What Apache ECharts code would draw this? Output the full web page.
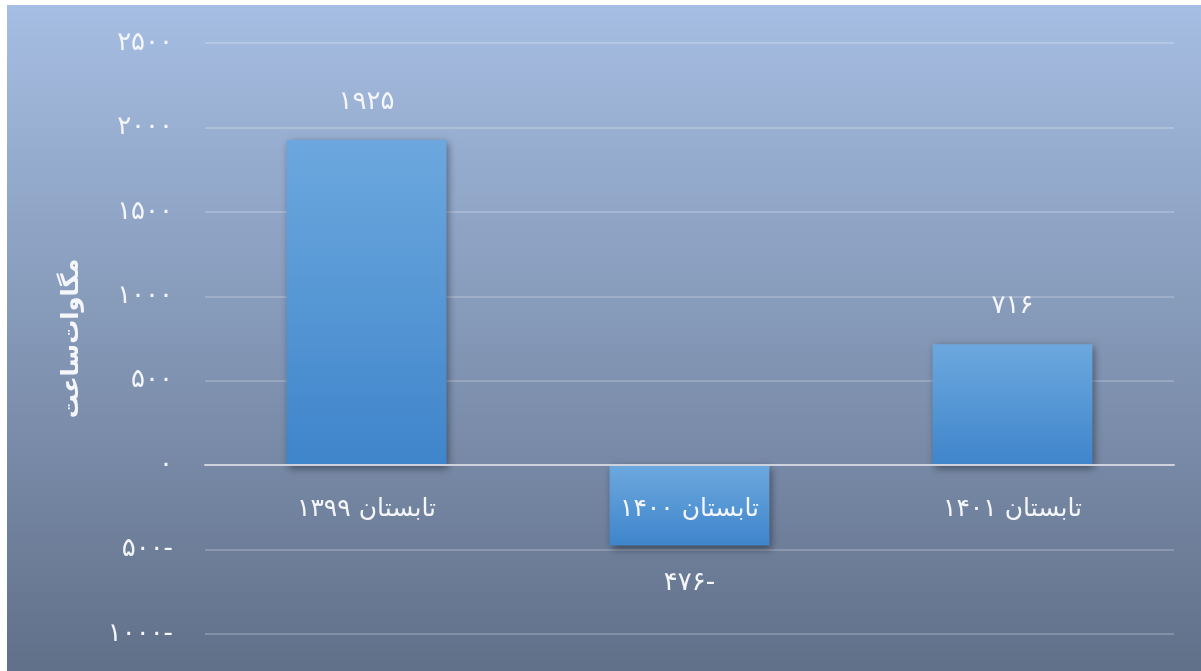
<!DOCTYPE html>
<html>
<head>
<meta charset="utf-8">
<script src="https://cdn.jsdelivr.net/npm/echarts@6/dist/echarts.min.js"></script>
<style>
  html, body { margin: 0; padding: 0; background: #fff; }
  #chart { position: absolute; left: 7px; top: 5px; width: 1194px; height: 666px; }
</style>
</head>
<body>
<div id="chart"></div>
<script>
// داده‌ها
var categories = ['تابستان ۱۳۹۹', 'تابستان ۱۴۰۰', 'تابستان ۱۴۰۱'];
var values = [1925, -476, 716];
var yTicks = [-1000, -500, 0, 500, 1000, 1500, 2000, 2500];
var axisTitle = 'مگاوات‌ساعت';

// اعداد فارسی، منفی با علامت در انتها
function toFa (n) {
  var s = String(Math.abs(n)).replace(/[0-9]/g, function (d) {
    return '۰۱۲۳۴۵۶۷۸۹'.charAt(+d);
  });
  return n < 0 ? s + '-' : s;
}

var font = 'DejaVu Sans';
var textColor = '#f4f6fa';
var gridTop = 38, gridBottom = 37, chartH = 666;
var yMin = yTicks[0], yMax = yTicks[yTicks.length - 1];
// فاصله‌ی خط صفر تا پایین ناحیه‌ی نمودار
var plotH = chartH - gridTop - gridBottom;
var zeroOffset = (0 - yMin) / (yMax - yMin) * plotH;

var chart = echarts.init(document.getElementById('chart'));
chart.setOption({
  backgroundColor: new echarts.graphic.LinearGradient(0, 0, 0, 1, [
    {offset: 0, color: '#a6bee3'},
    {offset: 1, color: '#617089'}
  ]),
  animation: false,
  grid: { left: 198, right: 27, top: gridTop, bottom: gridBottom, containLabel: false, outerBoundsMode: 'none' },
  xAxis: {
    type: 'category',
    data: categories,
    z: 10,
    offset: -zeroOffset,
    axisLine: { onZero: false, lineStyle: { color: '#cdd2dc', width: 2 } },
    axisTick: { show: false },
    axisLabel: {
      color: textColor,
      fontFamily: font,
      fontSize: 25,
      margin: 32
    }
  },
  yAxis: {
    type: 'value',
    min: yMin,
    max: yMax,
    interval: 500,
    name: axisTitle,
    nameLocation: 'middle',
    nameGap: 121,
    nameTextStyle: {
      color: textColor,
      fontFamily: font,
      fontSize: 24,
      fontWeight: 'bold'
    },
    axisLine: { show: false },
    axisTick: { show: false },
    axisLabel: {
      color: textColor,
      fontFamily: font,
      fontSize: 26,
      margin: 32,
      formatter: function (v) { return toFa(v); }
    },
    splitLine: { lineStyle: { color: 'rgba(255,255,255,0.2)', width: 2 } }
  },
  series: [{
    type: 'bar',
    barWidth: '49.5%',
    data: values.map(function (v) {
      return { value: v, label: { position: v < 0 ? 'bottom' : 'top' } };
    }),
    itemStyle: {
      color: new echarts.graphic.LinearGradient(0, 0, 0, 1, [
        {offset: 0, color: '#6ca8de'},
        {offset: 1, color: '#3f85cb'}
      ]),
      shadowBlur: 8,
      shadowColor: 'rgba(0,0,0,0.45)',
      shadowOffsetX: 2,
      shadowOffsetY: 3
    },
    label: {
      show: true,
      distance: 25,
      color: textColor,
      fontFamily: font,
      fontSize: 26,
      formatter: function (p) { return toFa(p.value); }
    }
  }]
});
</script>
</body>
</html>
